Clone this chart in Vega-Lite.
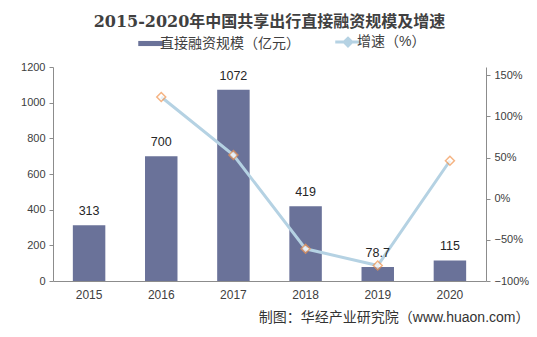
{
  "$schema": "https://vega.github.io/schema/vega-lite/v6.json",
  "width": 433,
  "height": 214,
  "padding": {"left": 20, "top": 14, "right": 18, "bottom": 5},
  "background": "white",
  "title": {
    "text": "2015-2020年中国共享出行直接融资规模及增速",
    "font": "DejaVu Serif, Noto Sans CJK SC",
    "fontSize": 16,
    "fontWeight": "bold",
    "color": "#404040",
    "anchor": "middle",
    "offset": 5
  },
  "config": {
    "view": {"stroke": null},
    "font": "Liberation Sans, Noto Sans CJK SC",
    "axis": {
      "grid": false,
      "domainColor": "#8c8c8c",
      "tickColor": "#8c8c8c",
      "tickSize": 4,
      "labelColor": "#404040",
      "labelFontSize": 11,
      "labelFont": "Liberation Sans",
      "labelOverlap": false
    }
  },
  "data": {
    "values": [
      {"year": "2015", "value": 313, "growth": null, "s1": "直接融资规模（亿元）", "s2": "增速（%）"},
      {"year": "2016", "value": 700, "growth": 1.236, "s1": "直接融资规模（亿元）", "s2": "增速（%）"},
      {"year": "2017", "value": 1072, "growth": 0.531, "s1": "直接融资规模（亿元）", "s2": "增速（%）"},
      {"year": "2018", "value": 419, "growth": -0.609, "s1": "直接融资规模（亿元）", "s2": "增速（%）"},
      {"year": "2019", "value": 78.7, "growth": -0.812, "s1": "直接融资规模（亿元）", "s2": "增速（%）"},
      {"year": "2020", "value": 115, "growth": 0.461, "s1": "直接融资规模（亿元）", "s2": "增速（%）"}
    ]
  },
  "encoding": {
    "x": {
      "field": "year",
      "type": "ordinal",
      "scale": {"paddingInner": 0.55, "paddingOuter": 0.275},
      "axis": {
        "labelAngle": 0,
        "ticks": false,
        "labelPadding": 8,
        "labelFontSize": 12,
        "title": "制图：华经产业研究院（www.huaon.com）",
        "titleFont": "Liberation Sans, Noto Sans CJK SC",
        "titleFontSize": 14,
        "titleFontWeight": "normal",
        "titleColor": "#333333",
        "titleAnchor": "end",
        "titleAlign": "right",
        "titleX": 476,
        "titlePadding": 10
      }
    }
  },
  "layer": [
    {
      "mark": {"type": "bar", "color": "#6A7299"},
      "encoding": {
        "y": {
          "field": "value",
          "type": "quantitative",
          "scale": {"domain": [0, 1200]},
          "axis": {"orient": "left", "values": [0, 200, 400, 600, 800, 1000, 1200], "labelOverlap": false, "format": "d", "title": null, "labelPadding": 4}
        },
        "color": {
          "field": "s1",
          "type": "nominal",
          "scale": {"domain": ["直接融资规模（亿元）", "增速（%）"], "range": ["#6A7299", "#B5D2E3"]},
          "legend": {
            "orient": "none",
            "legendX": 91,
            "legendY": -32,
            "padding": 0,
            "direction": "horizontal",
            "title": null,
            "labelFontSize": 14,
            "labelColor": "#404040",
            "labelFont": "Liberation Sans, Noto Sans CJK SC",
            "labelOffset": 2,
            "columnPadding": 29,
            "symbolSize": 650,
            "encode": {
              "symbols": {
                "update": {
                  "shape": {"signal": "datum.value === '增速（%）' ? 'M-1,0H-0.3M0.3,0H1M0,-0.3L0.3,0L0,0.3L-0.3,0Z' : 'M-1,-0.2H1V0.2H-1Z'"},
                  "fill": {"signal": "datum.value === '增速（%）' ? 'white' : '#6A7299'"},
                  "stroke": {"signal": "datum.value === '增速（%）' ? '#B5D2E3' : '#6A7299'"},
                  "strokeWidth": {"signal": "datum.value === '增速（%）' ? 3 : 0"}
                }
              }
            }
          }
        }
      }
    },
    {
      "layer": [
        {
          "mark": {"type": "line", "interpolate": "linear", "strokeWidth": 3},
          "encoding": {
            "y": {
              "field": "growth",
              "type": "quantitative",
              "scale": {"domain": [-1, 1.5]},
              "axis": {"orient": "right", "values": [-1, -0.5, 0, 0.5, 1, 1.5], "format": ".0%", "title": null, "labelPadding": 4}
            },
            "color": {"field": "s2", "type": "nominal"}
          }
        },
        {
          "mark": {"type": "point", "shape": "diamond", "filled": true, "fill": "white", "stroke": "#F29550", "strokeWidth": 1.5, "size": 80},
          "encoding": {
            "y": {"field": "growth", "type": "quantitative"}
          }
        }
      ]
    },
    {
      "mark": {"type": "text", "dy": -14, "fontSize": 12.5, "color": "#262626", "font": "Liberation Sans"},
      "encoding": {
        "y": {"field": "value", "type": "quantitative", "scale": {"domain": [0, 1200]}, "axis": null},
        "text": {"field": "value", "type": "quantitative"}
      }
    }
  ],
  "resolve": {"scale": {"y": "independent"}}
}
